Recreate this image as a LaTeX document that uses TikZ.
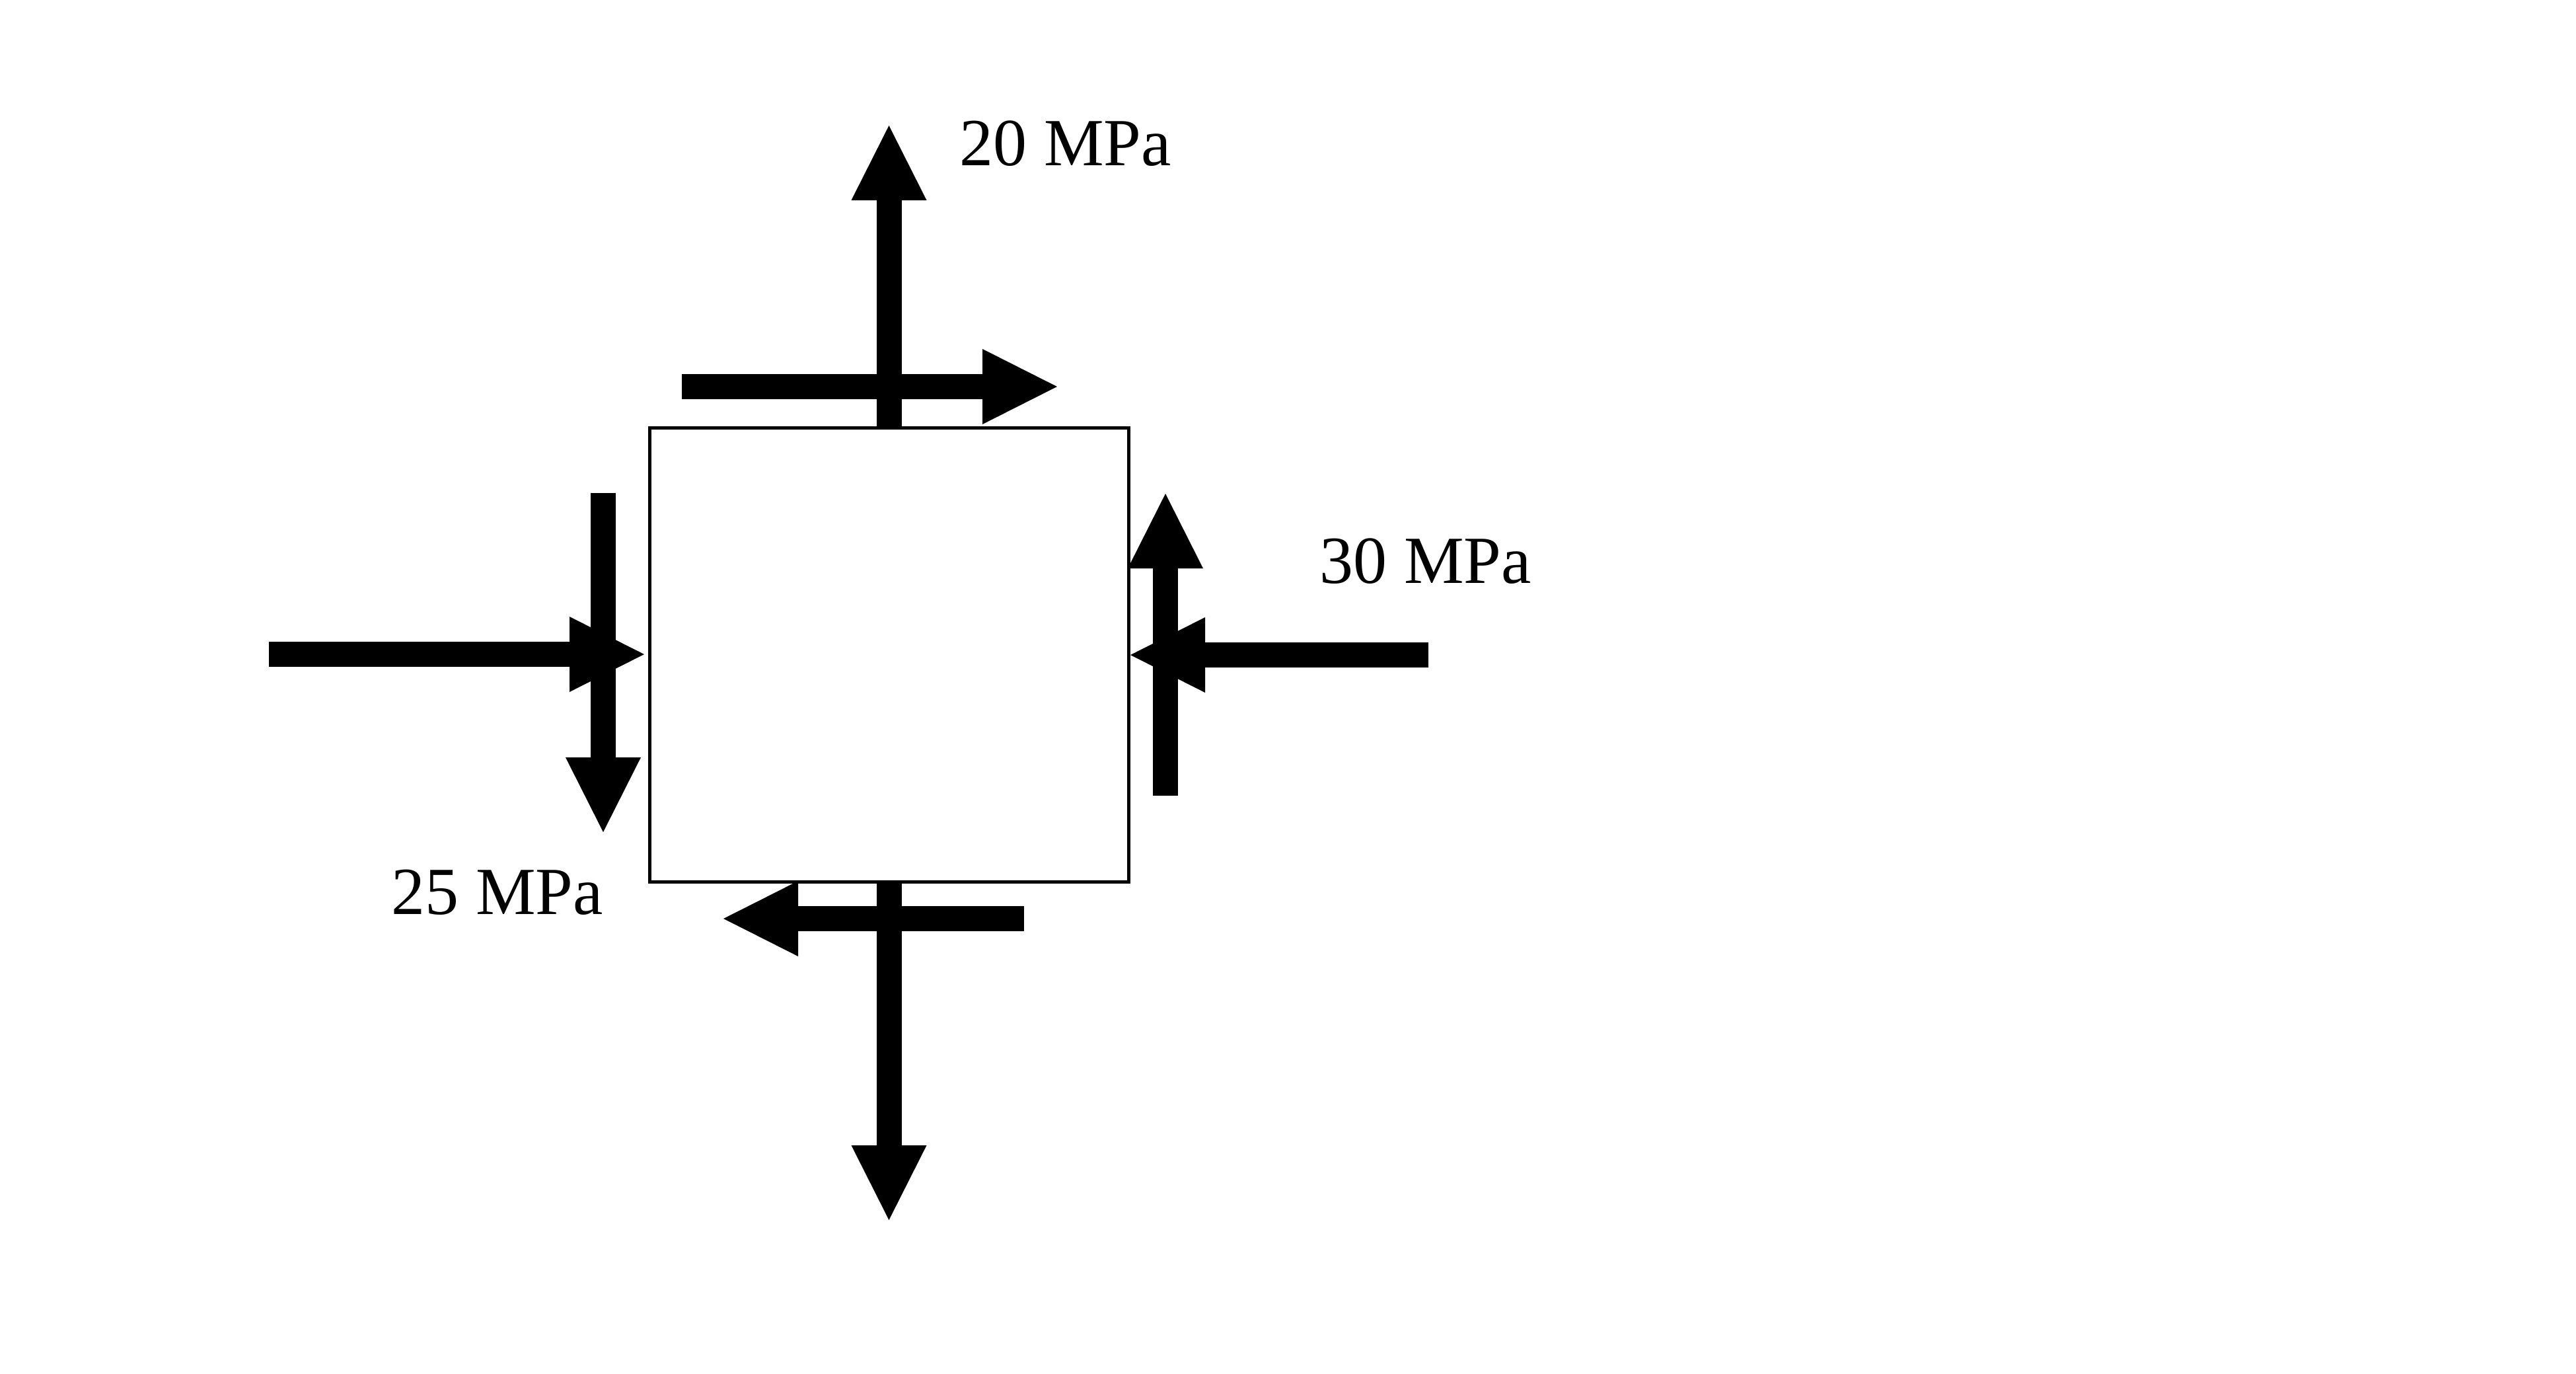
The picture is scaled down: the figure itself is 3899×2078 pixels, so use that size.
\documentclass[tikz,border=0pt]{standalone}
\usepackage{fontspec}
\setmainfont{Liberation Serif}
\usetikzlibrary{arrows.meta}
\tikzset{
  force/.style={line width=3.8mm, draw=black,
    -{Triangle[width=11.4mm,length=11.3mm,line width=0pt]}},
  elem/.style={draw=black, line width=0.5mm, fill=white, inner sep=0pt,
    minimum width=72.5mm, minimum height=68.7mm},
  lbl/.style={anchor=base west, inner sep=0pt, font=\fontsize{29pt}{34pt}\selectfont}
}
\begin{document}
\begin{tikzpicture}[x=0.1mm,y=-0.1mm]
\useasboundingbox[fill=white] (0,0) rectangle (3899,2078);
\node[elem] (box) at (1345.5,990.5) {};
% named end points
\coordinate (t1) at (1345.5,190);
\coordinate (h1s) at (1032,585);   \coordinate (h1e) at (1600,585);
\coordinate (l1s) at (407,990);    \coordinate (l1e) at (975,990);
\coordinate (v1s) at (913,746);    \coordinate (v1e) at (913,1259);
\coordinate (v2s) at (1764,1204);  \coordinate (v2e) at (1764,747);
\coordinate (r1s) at (2162,991);   \coordinate (r1e) at (1711,991);
\coordinate (b1s) at (1550,1390);  \coordinate (b1e) at (1095,1390);
\coordinate (t2) at (1345.5,1846);
% forces
\draw[force] (box.north) -- (t1);
\draw[force] (h1s) -- (h1e);
\draw[force] (l1s) -- (l1e);
\draw[force] (v1s) -- (v1e);
\draw[force] (v2s) -- (v2e);
\draw[force] (r1s) -- (r1e);
\draw[force] (b1s) -- (b1e);
\draw[force] (box.south) -- (t2);
% labels
\node[lbl] (s20) at (1452,250) {20 MPa};
\node[lbl] (s30) at (1997,882) {30 MPa};
\node[lbl] (s25) at (592,1383) {25 MPa};
\end{tikzpicture}
\end{document}
